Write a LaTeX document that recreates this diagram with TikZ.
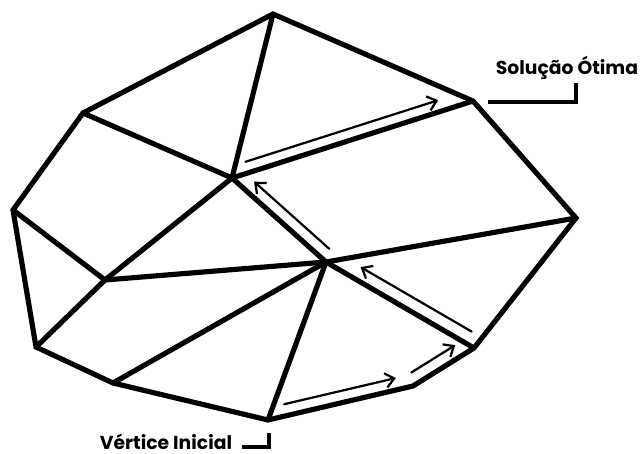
\documentclass[tikz,border=0pt]{standalone}
\usepackage{fontspec}
\setmainfont{Poppins}
\usetikzlibrary{arrows.meta,calc}

\begin{document}
\begin{tikzpicture}[x=0.03cm, y=-0.03cm,
    edge/.style={line width=4.4pt},
    move/.style={line width=1.9pt, line cap=round, -{Straight Barb[length=2.6mm, width=4.4mm]}},
    tick/.style={line width=2.8pt},
    tag/.style={font=\fontsize{16}{19}\selectfont\bfseries, inner sep=0pt, anchor=base}
  ]
  \useasboundingbox (0,0) rectangle (641,454);

  % vertices of the polytope
  \coordinate (T)  at (273,14);
  \coordinate (UL) at (83,113);
  \coordinate (L)  at (13,210);
  \coordinate (LL) at (36,347);
  \coordinate (BL) at (113,383);
  \coordinate (B)  at (268,420);
  \coordinate (BR) at (413,386);
  \coordinate (RB) at (474,348);
  \coordinate (R)  at (576,218);
  \coordinate (UR) at (473,101);
  \coordinate (I)  at (232,178);
  \coordinate (C)  at (326,262);
  \coordinate (LI) at (105,280);

  \draw[edge] (T) -- (UL) -- (L) -- (LL) -- (BL) -- (B) -- (BR) -- (RB) -- (R) -- (UR) -- cycle;
  \draw[edge] (T) -- (I);
  \draw[edge] (UL) -- (I) -- (UR);
  \draw[edge] (I) -- (C);
  \draw[edge] (I) -- (LI);
  \draw[edge] (L) -- (LI) -- (LL);
  \draw[edge] (LI) -- (C);
  \draw[edge] (C) -- (BL);
  \draw[edge] (C) -- (B);
  \draw[edge] (C) -- (RB);
  \draw[edge] (C) -- (R);

  % path of the method
  \draw[move] ($(B)!0.13!(BR)!0.35cm!90:(BR)$) -- ($(B)!0.9!(BR)!0.35cm!90:(BR)$);
  \draw[move] ($(BR)!0.08!(RB)!0.37cm!90:(RB)$) -- ($(BR)!0.8!(RB)!0.37cm!90:(RB)$);
  \draw[move] ($(RB)!0.06!(C)!0.39cm!-90:(C)$) -- ($(RB)!0.81!(C)!0.39cm!-90:(C)$);
  \draw[move] ($(C)!0.05!(I)!0.36cm!-90:(I)$) -- ($(C)!0.85!(I)!0.36cm!-90:(I)$);
  \draw[move] ($(I)!0.07!(UR)!0.34cm!90:(UR)$) -- ($(I)!0.87!(UR)!0.34cm!90:(UR)$);

  % labels
  \node[tag] (sol) at (567,75) {Solução Ótima};
  \node[tag] (ini) at (166,449) {Vértice Inicial};
  \draw[tick] ($(UR)+(15,1)$) -| ($(sol.base)+(9,8)$);
  \draw[tick] ($(B)+(1,13)$) |- ($(ini.base east)+(10,-2)$);
\end{tikzpicture}
\end{document}
